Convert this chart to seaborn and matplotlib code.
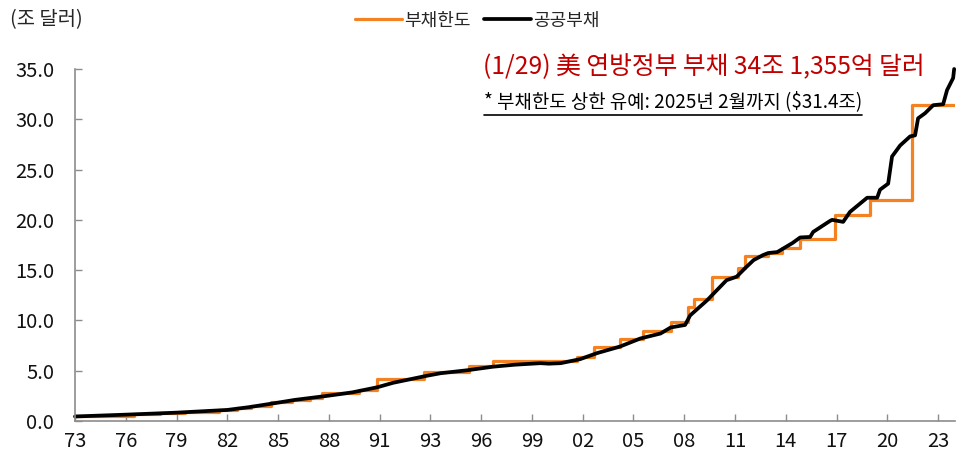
import numpy as np
import pandas as pd
import matplotlib
matplotlib.use("Agg")
import matplotlib.pyplot as plt
from matplotlib.lines import Line2D
import seaborn as sns

# ── données (axe x : position en années, graduations tous les 3 ans) ──
limit_x = [1973.0, 1975.0, 1976.5, 1978.0, 1979.5, 1980.5, 1981.5, 1982.6, 1983.4,
           1984.6, 1985.8, 1986.9, 1987.6, 1989.8, 1990.85, 1993.6, 1996.3, 1997.7,
           2002.67, 2003.67, 2005.21, 2006.57, 2008.2, 2009.2, 2009.58, 2010.65,
           2012.18, 2012.6, 2013.96, 2014.78, 2015.85, 2017.92, 2019.98, 2022.47, 2025.0]
limit_y = [0.47, 0.54, 0.66, 0.76, 0.86, 0.94, 1.06, 1.25, 1.45,
           1.86, 2.08, 2.3, 2.8, 3.12, 4.15, 4.9, 5.5, 5.95,
           6.4, 7.38, 8.18, 8.97, 9.82, 11.32, 12.1, 14.29,
           15.19, 16.39, 16.7, 17.2, 18.1, 20.5, 22.0, 31.4, 31.4]

debt_x = [1973.0, 1976.0, 1979.0, 1982.0, 1983.3, 1984.9, 1986.0, 1987.9, 1989.4,
          1990.85, 1991.8, 1993.8, 1994.6, 1996.2, 1997.7, 1999.0, 2000.5, 2001.0,
          2001.7, 2002.85, 2003.85, 2005.2, 2006.4, 2007.6, 2008.2, 2009.05, 2009.35,
          2010.35, 2011.5, 2012.1, 2012.6, 2013.1, 2013.66, 2013.96, 2014.5, 2015.4,
          2015.85, 2016.44, 2016.62, 2017.62, 2017.74, 2018.39, 2018.8, 2019.81,
          2020.4, 2020.57, 2021.05, 2021.28, 2021.76, 2022.35, 2022.64, 2022.82,
          2023.23, 2023.71, 2024.3, 2024.53, 2024.89, 2024.95]
debt_y = [0.45, 0.63, 0.83, 1.1, 1.38, 1.8, 2.1, 2.5, 2.85,
          3.35, 3.8, 4.5, 4.75, 5.05, 5.4, 5.6, 5.75, 5.7,
          5.75, 6.15, 6.75, 7.4, 8.2, 8.7, 9.3, 9.55, 10.5,
          12.0, 14.0, 14.35, 15.2, 16.0, 16.5, 16.7, 16.8, 17.7,
          18.25, 18.3, 18.8, 19.9, 20.0, 19.8, 20.8, 22.2,
          22.2, 23.0, 23.6, 26.3, 27.4, 28.3, 28.4, 30.1,
          30.6, 31.4, 31.5, 32.9, 34.1, 35.0]

tick_pos = [1973 + 3 * i for i in range(18)]
tick_labels = ["73", "76", "79", "82", "85", "88", "91", "93", "96",
               "99", "02", "05", "08", "11", "14", "17", "20", "23"]
y_ticks = [0, 5, 10, 15, 20, 25, 30, 35]

title_txt = "(1/29) 美 연방정부 부채 34조 1,355억 달러"
note_txt = "* 부채한도 상한 유예: 2025년 2월까지 ($31.4조)"
unit_txt = "(조 달러)"

ORANGE = "#F58220"
RED = "#C00000"

# ── style ──
sns.set_theme(style="ticks")
plt.rcParams["font.family"] = ["Noto Sans CJK KR", "DejaVu Sans"]
plt.rcParams["axes.unicode_minus"] = False

df_limit = pd.DataFrame({"x": limit_x, "y": limit_y})
df_debt = pd.DataFrame({"x": debt_x, "y": debt_y})

fig = plt.figure(figsize=(9.67, 4.54), dpi=100)
ax = fig.add_axes([75 / 967, 1 - 421 / 454, 880 / 967, 352 / 454])

sns.lineplot(data=df_limit, x="x", y="y", ax=ax, color=ORANGE, lw=2.3,
             drawstyle="steps-post", label="부채한도")
sns.lineplot(data=df_debt, x="x", y="y", ax=ax, color="black", lw=2.7,
             label="공공부채", clip_on=False)

ax.set_xlim(1973, 2025)
ax.set_ylim(0, 35)
ax.set_xticks(tick_pos)
ax.set_xticklabels(tick_labels)
ax.set_yticks(y_ticks)
ax.set_yticklabels([f"{v:.1f}" for v in y_ticks])
ax.set_xlabel("")
ax.set_ylabel("")

for s in ["top", "right"]:
    ax.spines[s].set_visible(False)
for s in ["left", "bottom"]:
    ax.spines[s].set_color("#8c8c8c")
    ax.spines[s].set_linewidth(1.2)
ax.tick_params(axis="both", direction="in", length=5, width=1.0, color="#8c8c8c",
               labelsize=14.5, labelcolor="#111111")
ax.tick_params(axis="y", pad=15)
ax.tick_params(axis="x", pad=7)

leg = ax.legend(loc="upper center", bbox_to_anchor=(0.457, 1.21), ncol=2,
                frameon=False, fontsize=13, handlelength=2.6,
                handletextpad=0.1, columnspacing=0.75)

fig.text(10 / 967, 1 - 20 / 454, unit_txt, fontsize=14.3, va="center", ha="left")
fig.text(483 / 967, 1 - 67 / 454, title_txt, fontsize=17.8, color=RED,
         va="center", ha="left", fontweight="medium")
note = fig.text(484 / 967, 1 - 102 / 454, note_txt, fontsize=13.6, color="black",
                va="center", ha="left", fontweight="medium")

# soulignement de la note
fig.canvas.draw()
bb = note.get_window_extent().transformed(fig.transFigure.inverted())
fig.add_artist(Line2D([bb.x0, bb.x1], [1 - 115 / 454] * 2,
                      transform=fig.transFigure, color="black", lw=1.2))

fig.savefig("out.png", dpi=100)
